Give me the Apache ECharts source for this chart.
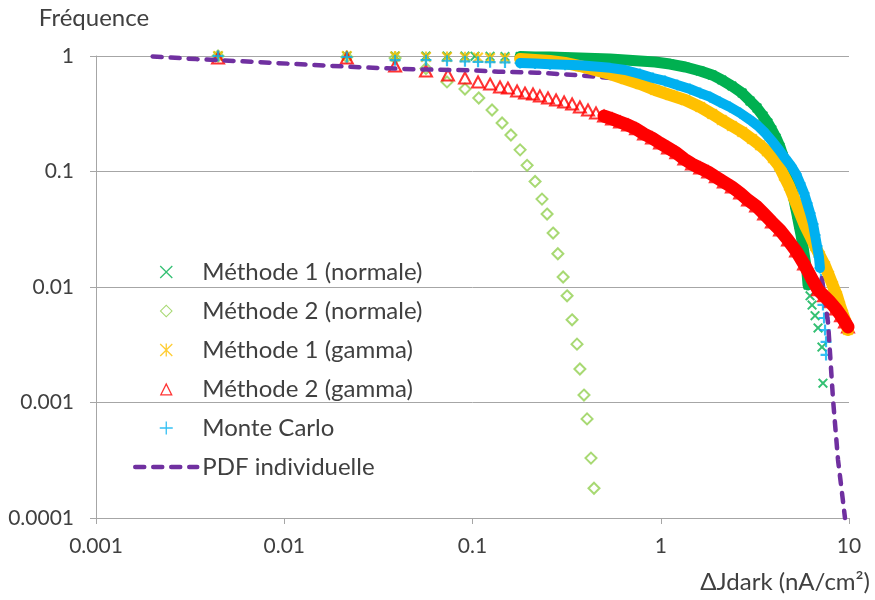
<!DOCTYPE html>
<html>
<head>
<meta charset="utf-8">
<script src="https://cdn.jsdelivr.net/npm/echarts@6/dist/echarts.min.js"></script>
<style>
html,body{margin:0;padding:0;background:#fff;}
#chart{width:875px;height:600px;}
</style>
</head>
<body>
<div id="chart"></div>
<script>
// ---- data ----
const xTickLabels = ['0.001', '0.01', '0.1', '1', '10'];
const yTickLabels = ['0.0001', '0.001', '0.01', '0.1', '1'];

const seriesNames = ['Méthode 1 (normale)', 'Méthode 2 (normale)', 'Méthode 1 (gamma)', 'Méthode 2 (gamma)', 'Monte Carlo', 'PDF individuelle'];

// Méthode 1 (normale)
const m1nX = [0.00445,0.0215,0.0388,0.0566,0.0732,0.0912,0.1031,0.124,0.1488,0.179,0.2147,0.258,0.3104,0.372,0.4475,0.538,0.6463,0.776,0.9322,1.12,1.35,1.62,1.875,2.111,2.388,2.705,2.98,3.246,3.496,3.708,3.894,4.10,4.30,4.459,4.626,4.80,4.92,5.045,5.17,5.298,5.423,5.558,5.699,5.84,5.985,6.06,6.21,6.364,6.60,6.847,7.184,7.272];
const m1nY = [1,1,1,1,1,0.998,0.996,0.994,0.99,0.988,0.98,0.978,0.972,0.961,0.951,0.942,0.923,0.905,0.887,0.852,0.803,0.742,0.685,0.62,0.55,0.478,0.408,0.355,0.302,0.263,0.229,0.195,0.163,0.136,0.114,0.0931,0.0764,0.0627,0.0515,0.0422,0.0346,0.0284,0.0223,0.0171,0.0133,0.0104,0.00838,0.00697,0.00565,0.00442,0.00302,0.00147];

// Méthode 2 (normale)
const m2nX = [0.00445,0.0215,0.0388,0.0566,0.0732,0.0912,0.108,0.127,0.1436,0.160,0.179,0.195,0.215,0.234,0.249,0.268,0.284,0.303,0.318,0.338,0.359,0.372,0.391,0.406,0.426,0.442];
const m2nY = [1,0.98,0.96,0.78,0.596,0.518,0.433,0.341,0.263,0.207,0.154,0.113,0.082,0.0577,0.0428,0.0293,0.0194,0.0122,0.00839,0.0052,0.0032,0.00195,0.00116,0.000721,0.00033,0.000181];

// Méthode 1 (gamma)
const m1gX = [0.00445,0.0215,0.0388,0.0566,0.0732,0.0912,0.107,0.124,0.1488,0.179,0.2147,0.258,0.3104,0.372,0.4475,0.538,0.6463,0.776,0.9322,1.12,1.35,1.62,1.875,2.111,2.388,2.705,3.054,3.37,3.663,3.942,4.248,4.514,4.80,5.045,5.298,5.558,5.84,6.21,6.60,7.01,7.46,7.834,8.226,8.639,8.96,9.29,9.637,9.876];
const m1gY = [1,1,0.99,0.98,0.98,0.975,0.97,0.961,0.955,0.942,0.923,0.905,0.87,0.819,0.756,0.698,0.632,0.572,0.508,0.46,0.416,0.362,0.315,0.279,0.248,0.22,0.191,0.169,0.15,0.131,0.112,0.0916,0.0752,0.0617,0.0506,0.0415,0.034,0.0279,0.0226,0.0186,0.0152,0.0125,0.0102,0.00836,0.00686,0.00579,0.00488,0.00424];

// Méthode 2 (gamma)
const m2gX = [0.00445,0.0215,0.0388,0.0566,0.0741,0.0912,0.107,0.124,0.140,0.1542,0.1725,0.190,0.2096,0.228,0.2518,0.278,0.3066,0.3382,0.372,0.4108,0.453,0.4998,0.5513,0.608,0.6704,0.739,0.8149,0.8987,0.991,1.093,1.209,1.334,1.465,1.62,1.786,1.962,2.163,2.388,2.64,2.908,3.209,3.539,3.894,4.30,4.742,5.234,5.769,6.364,6.847,7.369,7.93,8.534,9.07,9.52,9.876];
const m2gY = [0.961,0.961,0.819,0.742,0.685,0.645,0.596,0.572,0.539,0.528,0.498,0.478,0.469,0.451,0.433,0.416,0.4,0.384,0.362,0.341,0.321,0.302,0.285,0.268,0.252,0.234,0.211,0.195,0.176,0.16,0.145,0.128,0.116,0.107,0.099,0.0898,0.0812,0.0734,0.065,0.0566,0.0503,0.0429,0.0365,0.0311,0.0255,0.0205,0.0158,0.0117,0.00944,0.00838,0.00744,0.00646,0.00564,0.00498,0.00451];

// Monte Carlo
const mcX = [0.00445,0.0215,0.0388,0.0566,0.0732,0.0912,0.107,0.124,0.1488,0.179,0.2147,0.258,0.3104,0.372,0.4475,0.538,0.6463,0.776,0.910,1.053,1.224,1.43,1.62,1.83,2.06,2.33,2.64,2.98,3.288,3.582,3.894,4.248,4.57,4.92,5.234,5.49,5.769,5.985,6.21,6.44,6.60,6.764,6.925,7.01,7.096,7.184,7.272,7.369,7.46,7.552,7.552];
const mcY = [1,0.98,0.92,0.92,0.91,0.9,0.89,0.885,0.88,0.87,0.86,0.85,0.84,0.83,0.81,0.79,0.756,0.698,0.645,0.608,0.561,0.518,0.478,0.442,0.4,0.362,0.321,0.28,0.248,0.216,0.184,0.154,0.131,0.112,0.095,0.0793,0.065,0.0533,0.0437,0.0351,0.0282,0.0226,0.0182,0.0146,0.0116,0.00911,0.00699,0.00539,0.00424,0.00335,0.00258];

// PDF individuelle
const pdfX = [0.002,0.0034,0.0072,0.0142,0.0262,0.0483,0.1,0.137,0.22,0.351,0.571,0.8,1.2,1.8,2.5,3.2,4.0,5.0,6.0,7.0,7.74,8.23,8.74,9.2,9.52];
const pdfY = [0.99,0.94,0.887,0.836,0.798,0.767,0.752,0.731,0.717,0.685,0.641,0.58,0.46,0.34,0.25,0.18,0.13,0.075,0.033,0.016,0.0049,0.00105,0.00032,0.00016,0.0001];

// ---- rendering ----
const FONT = "Lato, 'Open Sans', sans-serif";
const TXT = '#404040';
const GRIDC = '#A6A6A6';
const C_GREEN = '#00B050', C_LGREEN = '#92D050', C_YELLOW = '#FFC000', C_RED = '#FF0000', C_BLUE = '#00B0F0', C_PURPLE = '#7030A0';
const PDF_DASH = [9, 9];

const P_X = 'path://M1.4,0L5,3.6L8.6,0L10,1.4L6.4,5L10,8.6L8.6,10L5,6.4L1.4,10L0,8.6L3.6,5L0,1.4Z';
const P_PLUS = 'path://M4,0H6V4H10V6H6V10H4V6H0V4H4Z';
const P_STAR = 'path://M1.4,0L5,3.6L8.6,0L10,1.4L6.4,5L10,8.6L8.6,10L5,6.4L1.4,10L0,8.6L3.6,5L0,1.4ZM4,0H6V10H4Z';
const L_X = 'path://M0.7,0L5,4.3L9.3,0L10,0.7L5.7,5L10,9.3L9.3,10L5,5.7L0.7,10L0,9.3L4.3,5L0,0.7Z';
const L_PLUS = 'path://M4.5,0H5.5V4.5H10V5.5H5.5V10H4.5V5.5H0V4.5H4.5Z';
const L_STAR = 'path://M0.7,0L5,4.3L9.3,0L10,0.7L5.7,5L10,9.3L9.3,10L5,5.7L0.7,10L0,9.3L4.3,5L0,0.7ZM4.5,0H5.5V10H4.5Z';
const L_DIAMOND = 'path://M5,0L10,5L5,10L0,5ZM5,1.1L1.1,5L5,8.9L8.9,5Z';
const L_TRI = 'path://M5,0L10,10L0,10ZM5,2.3L1.6,9L8.4,9Z';

function pairs(xs, ys) { return xs.map((x, i) => [x, ys[i]]); }

function scatter(name, xs, ys, symbol, size, itemStyle) {
  return { type: 'scatter', name, data: pairs(xs, ys), symbol, symbolSize: size,
    itemStyle, clip: false, silent: true };
}
function band(xs, ys, from, to, color, width) {
  return { type: 'line', name: '_band', data: pairs(xs, ys).slice(from, to), symbol: 'none',
    lineStyle: { color, width, cap: 'round', join: 'round' }, clip: false, silent: true };
}

const series = [
  { type: 'line', name: seriesNames[5], data: pairs(pdfX, pdfY), symbol: 'none', clip: false, silent: true,
    itemStyle: { color: C_PURPLE },
    lineStyle: { color: C_PURPLE, width: 4.5, type: PDF_DASH, cap: 'round' } },
  band(m1nX, m1nY, 9, 46, C_GREEN, 11),
  scatter(seriesNames[0], m1nX, m1nY, P_X, 10, { color: C_GREEN }),
  scatter(seriesNames[1], m2nX, m2nY, 'diamond', 11, { color: 'rgba(255,255,255,0)', borderColor: C_LGREEN, borderWidth: 2 }),
  band(m1gX, m1gY, 9, m1gX.length, C_YELLOW, 12),
  scatter(seriesNames[2], m1gX, m1gY, P_STAR, 11, { color: C_YELLOW }),
  band(m2gX, m2gY, 21, m2gX.length, C_RED, 13),
  scatter(seriesNames[3], m2gX, m2gY, 'triangle', [12, 11], { color: 'rgba(255,255,255,0)', borderColor: C_RED, borderWidth: 2 }),
  band(mcX, mcY, 9, 44, C_BLUE, 10),
  scatter(seriesNames[4], mcX, mcY, P_PLUS, 11, { color: C_BLUE })
];

const chart = echarts.init(document.getElementById('chart'), null, { renderer: 'canvas' });
chart.setOption({
  animation: false,
  backgroundColor: '#ffffff',
  textStyle: { fontFamily: FONT },
  grid: { left: 96, right: 26, top: 56, bottom: 82, containLabel: false },
  xAxis: {
    type: 'log', logBase: 10, min: 0.001, max: 10,
    axisLine: { show: true, lineStyle: { color: GRIDC, width: 1 } },
    axisTick: { show: true, length: 6, lineStyle: { color: GRIDC } },
    splitLine: { show: false },
    axisLabel: { fontFamily: FONT, fontSize: 21, color: TXT, margin: 18,
      formatter: v => xTickLabels[Math.round(Math.log10(v) + 3)] }
  },
  yAxis: {
    type: 'log', logBase: 10, min: 0.0001, max: 1,
    name: 'Fréquence', nameLocation: 'end', nameGap: 26,
    nameTextStyle: { fontFamily: FONT, fontSize: 24, color: TXT, padding: [0, 4, 0, 0] },
    axisLine: { show: true, lineStyle: { color: GRIDC, width: 1 } },
    axisTick: { show: true, length: 6, lineStyle: { color: GRIDC } },
    splitLine: { show: true, lineStyle: { color: GRIDC, width: 1 } },
    axisLabel: { fontFamily: FONT, fontSize: 21, color: TXT, margin: 22,
      formatter: v => yTickLabels[Math.round(Math.log10(v) + 4)] }
  },
  legend: {
    orient: 'vertical', left: 128, top: 255, itemWidth: 62, itemHeight: 13, itemGap: 15,
    symbolKeepAspect: true, selectedMode: false,
    textStyle: { fontFamily: FONT, fontSize: 24, color: TXT, lineHeight: 24 },
    data: [
      { name: seriesNames[0], icon: L_X, itemStyle: { color: C_GREEN, borderWidth: 0 } },
      { name: seriesNames[1], icon: L_DIAMOND, itemStyle: { color: C_LGREEN, borderWidth: 0 } },
      { name: seriesNames[2], icon: L_STAR, itemStyle: { color: C_YELLOW, borderWidth: 0 } },
      { name: seriesNames[3], icon: L_TRI, itemStyle: { color: C_RED, borderWidth: 0 } },
      { name: seriesNames[4], icon: L_PLUS, itemStyle: { color: C_BLUE, borderWidth: 0 } },
      { name: seriesNames[5],
        itemStyle: { color: 'rgba(0,0,0,0)', borderColor: 'rgba(0,0,0,0)', borderWidth: 0, opacity: 0 },
        lineStyle: { color: C_PURPLE, width: 4.5, type: PDF_DASH, cap: 'round' } }
    ]
  },
  graphic: [
    { type: 'text', right: 5, top: 570, style: { text: 'ΔJdark (nA/cm²)', fontFamily: FONT, fontSize: 24, fill: TXT } }
  ],
  series
});
</script>
</body>
</html>
